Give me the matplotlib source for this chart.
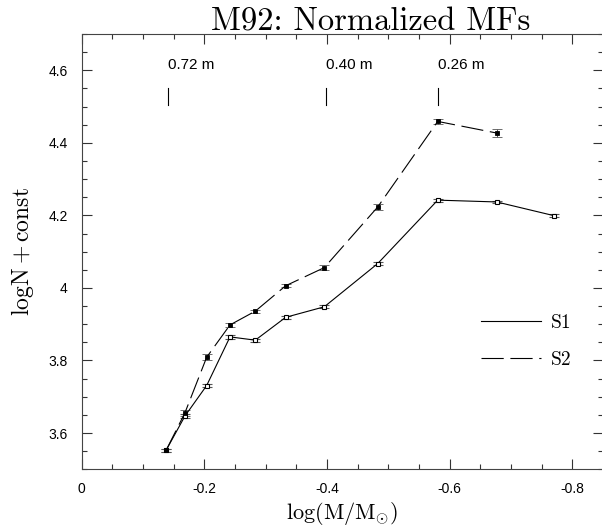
import matplotlib
matplotlib.use("Agg")
import matplotlib.pyplot as plt
from matplotlib.lines import Line2D
from matplotlib.ticker import MultipleLocator, FormatStrFormatter

plt.rcParams["mathtext.fontset"] = "cm"
plt.rcParams["axes.unicode_minus"] = False

# log(M/Msun) of the bins
logm_s1 = [-0.1375, -0.1684, -0.2038, -0.2418, -0.2831, -0.3326, -0.3956,
           -0.4826, -0.5805, -0.6767, -0.7706]
logn_s1 = [3.552, 3.647, 3.731, 3.865, 3.856, 3.919, 3.948, 4.067, 4.242, 4.237, 4.199]
err_s1 = [0.004, 0.006, 0.004, 0.005, 0.004, 0.004, 0.004, 0.004, 0.004, 0.004, 0.004]

logm_s2 = logm_s1[:10]
logn_s2 = [3.552, 3.656, 3.809, 3.898, 3.936, 4.006, 4.056, 4.223, 4.459, 4.427]
err_s2 = [0.004, 0.008, 0.008, 0.005, 0.004, 0.004, 0.006, 0.009, 0.007, 0.010]

mass_labels = ["0.72 m", "0.40 m", "0.26 m"]
mass_pos = [-0.140, -0.398, -0.581]

W, H = 602, 531
fig = plt.figure(figsize=(W / 100, H / 100), dpi=100)
ax = fig.add_axes([81.7 / W, 1 - 469.3 / H, (603 - 81.7) / W, (469.3 - 34) / H])

ax.errorbar(logm_s1, logn_s1, yerr=err_s1, color="black", lw=0.8,
            marker="s", ms=3.2, mfc="white", mec="black", mew=0.8,
            ecolor="#555555", elinewidth=0.7, capsize=3.5, capthick=0.7)
ax.errorbar(logm_s2, logn_s2, yerr=err_s2, color="black", lw=0.8, dashes=(20, 6),
            marker="s", ms=3.0, mfc="black", mec="black", mew=0.6,
            ecolor="#555555", elinewidth=0.7, capsize=3.5, capthick=0.7)

# mass markers along the top
for lab, xm in zip(mass_labels, mass_pos):
    ax.plot([xm, xm], [4.503, 4.552], color="black", lw=0.8)
    ax.text(xm, 4.615, lab, ha="left", va="center", fontsize=11,
            family="Liberation Sans")

ax.set_xlim(0, -0.85)
ax.set_ylim(3.5, 4.7)
ax.xaxis.set_major_locator(MultipleLocator(0.2))
ax.xaxis.set_minor_locator(MultipleLocator(0.05))
ax.yaxis.set_major_locator(MultipleLocator(0.2))
ax.yaxis.set_minor_locator(MultipleLocator(0.05))
ax.xaxis.set_major_formatter(FormatStrFormatter("%g"))
ax.yaxis.set_major_formatter(FormatStrFormatter("%g"))
ax.tick_params(which="both", direction="in", top=True, right=True,
               width=0.8, color="#333333")
ax.tick_params(which="major", length=7.5, pad=10)
ax.tick_params(axis="x", which="major", pad=9)
ax.tick_params(which="minor", length=3.8)
for lbl in ax.get_xticklabels() + ax.get_yticklabels():
    lbl.set_family("Liberation Sans")
    lbl.set_fontsize(10)
for sp in ax.spines.values():
    sp.set_linewidth(0.8)
    sp.set_color("#444444")

ax.set_xlabel(r"$\log(\mathrm{M}/\mathrm{M}_{\odot})$", fontsize=16, labelpad=3)
ax.set_ylabel(r"$\mathrm{log N+const}$", fontsize=17, labelpad=9)

fig.text(371 / W, 1 - 31 / H, "M92: Normalized MFs", ha="center", va="baseline",
         fontsize=23.5, family="cmr10")

handles = [Line2D([], [], color="black", lw=0.8),
           Line2D([], [], color="black", lw=0.8, dashes=(20, 6))]
ax.legend(handles, ["S1", "S2"], loc="upper left", bbox_to_anchor=(0.7654, 0.356),
          frameon=False, borderpad=0, borderaxespad=0, handlelength=3.1,
          handletextpad=0.5, labelspacing=0.95, prop={"family": "cmr10", "size": 14})

fig.savefig("out.png", dpi=100, facecolor="white")
plt.close()
